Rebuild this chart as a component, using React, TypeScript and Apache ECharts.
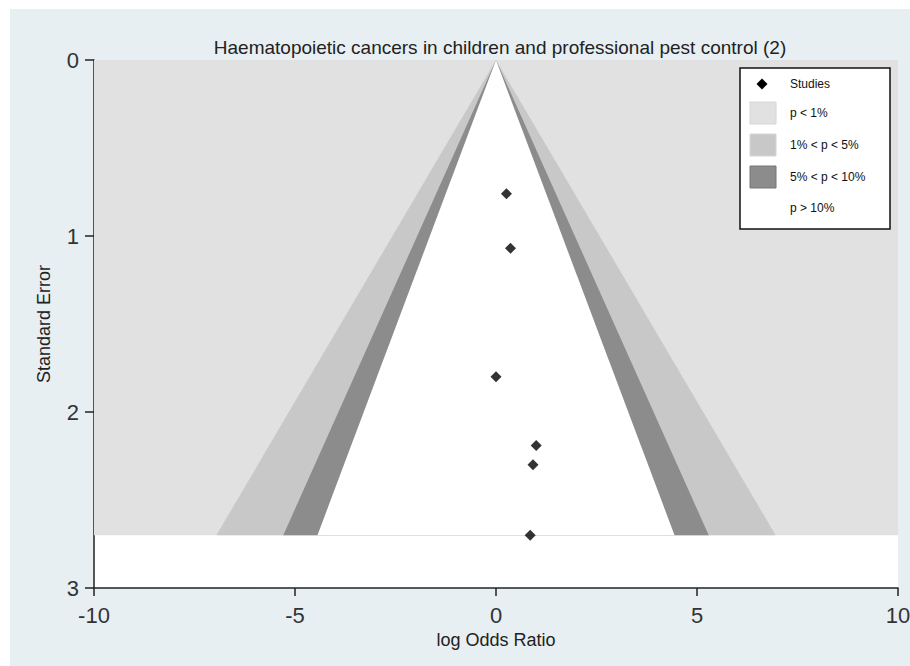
import React, { useEffect, useRef } from 'react';
import * as echarts from 'echarts';

const titleText = 'Haematopoietic cancers in children and professional pest control (2)';
const studyLogOR = [0.26, 0.36, 0.0, 1.0, 0.92, 0.85];
const studySE = [0.76, 1.07, 1.8, 2.19, 2.3, 2.7];
// contour z values for p = 1%, 5%, 10% (two-sided)
const contourZ = [2.576, 1.96, 1.645];
const contourColors = ['#c8c8c8', '#8c8c8c', '#ffffff'];
const outerColor = '#e1e1e1';
const legendLabels = ['Studies', 'p < 1%', '1% < p < 5%', '5% < p < 10%', 'p > 10%'];
const legendColors = ['#000000', '#e1e1e1', '#c8c8c8', '#8c8c8c', '#ffffff'];
const xMin = -10;
const xMax = 10;
const yMin = 0;
const yMax = 3;

const FONT = 'Arial, "Liberation Sans", sans-serif';

const App: React.FC = () => {
  const chartRef = useRef<HTMLDivElement>(null);

  useEffect(() => {
    const chart = echarts.init(chartRef.current as HTMLDivElement, undefined, { renderer: 'svg' });
    const maxSE = Math.max(...studySE);

    const legendItems: any[] = [
      {
        type: 'rect',
        z: 100,
        shape: { x: 740, y: 68, width: 150, height: 161 },
        style: { fill: '#fff', stroke: '#111', lineWidth: 1.5 },
      },
      {
        type: 'polygon',
        z: 101,
        shape: { points: [[762, 78.5], [767.5, 84], [762, 89.5], [756.5, 84]] },
        style: { fill: legendColors[0] },
      },
    ];
    const rowY = [84, 113, 145, 177, 208];
    legendLabels.forEach((label, i) => {
      if (i >= 1 && i <= 3) {
        legendItems.push({
          type: 'rect',
          z: 101,
          shape: { x: 750, y: rowY[i] - 11, width: 26, height: 22 },
          style: {
            fill: legendColors[i],
            stroke: i === 3 ? '#777' : '#d6d6d6',
            lineWidth: 1,
          },
        });
      }
      legendItems.push({
        type: 'text',
        z: 101,
        x: 790,
        y: rowY[i],
        style: {
          text: label,
          fill: '#111',
          font: `12px ${FONT}`,
          verticalAlign: 'middle',
        },
      });
    });

    const option = {
      animation: false,
      backgroundColor: '#e8eff2',
      title: {
        text: titleText,
        left: 495,
        top: 33,
        textAlign: 'center',
        textStyle: { fontSize: 19, fontWeight: 'normal', color: '#222', fontFamily: FONT },
      },
      grid: {
        left: 94,
        right: 12,
        top: 60,
        bottom: 78,
        show: true,
        backgroundColor: '#ffffff',
        borderWidth: 0,
        outerBoundsMode: 'none',
        containLabel: false,
      },
      xAxis: {
        type: 'value',
        min: xMin,
        max: xMax,
        interval: 5,
        name: 'log Odds Ratio',
        nameLocation: 'middle',
        nameGap: 38,
        nameTextStyle: { fontSize: 18, color: '#222', fontFamily: FONT },
        axisLine: { onZero: false, lineStyle: { color: '#222', width: 1.5 } },
        axisTick: { length: 8, lineStyle: { color: '#222', width: 1.5 } },
        axisLabel: { fontSize: 22, color: '#333', margin: 16, fontFamily: FONT },
        splitLine: { show: false },
      },
      yAxis: {
        type: 'value',
        inverse: true,
        min: yMin,
        max: yMax,
        interval: 1,
        name: 'Standard Error',
        nameLocation: 'middle',
        nameGap: 41,
        nameTextStyle: { fontSize: 18, color: '#222', fontFamily: FONT },
        axisLine: { onZero: false, lineStyle: { color: '#222', width: 1.5 } },
        axisTick: { length: 9, lineStyle: { color: '#222', width: 1.5 } },
        axisLabel: { fontSize: 22, color: '#333', margin: 15, fontFamily: FONT },
        splitLine: { show: false },
      },
      series: [
        {
          type: 'custom',
          name: 'p < 1%',
          silent: true,
          data: [[xMin, xMax]],
          renderItem: (_params: any, api: any) => {
            const a = api.coord([api.value(0), 0]);
            const b = api.coord([api.value(1), maxSE]);
            return {
              type: 'rect',
              shape: { x: a[0], y: a[1], width: b[0] - a[0], height: b[1] - a[1] },
              style: { fill: outerColor },
            };
          },
        },
        {
          type: 'custom',
          name: 'contours',
          silent: true,
          data: contourZ.map((z) => [z]),
          renderItem: (params: any, api: any) => {
            const z = api.value(0);
            const points = [
              api.coord([0, 0]),
              api.coord([-z * maxSE, maxSE]),
              api.coord([z * maxSE, maxSE]),
            ];
            return {
              type: 'polygon',
              shape: { points },
              style: { fill: contourColors[params.dataIndex] },
            };
          },
        },
        {
          type: 'scatter',
          name: 'Studies',
          symbol: 'diamond',
          symbolSize: [11, 11],
          itemStyle: { color: '#000' },
          data: studyLogOR.map((v, i) => [v, studySE[i]]),
        },
      ],
      graphic: [
        {
          type: 'rect',
          z: 100,
          shape: { x: 0, y: 0, width: 910, height: 9 },
          style: { fill: '#fff' },
        },
        {
          type: 'rect',
          z: 100,
          shape: { x: 0, y: 0, width: 10, height: 666 },
          style: { fill: '#fff' },
        },
        ...legendItems,
      ],
    };

    chart.setOption(option);
    return () => {
      chart.dispose();
    };
  }, []);

  return (
    <div
      ref={chartRef}
      style={{ position: 'fixed', left: 0, top: 0, width: '910px', height: '666px' }}
    ></div>
  );
};

export default App;
